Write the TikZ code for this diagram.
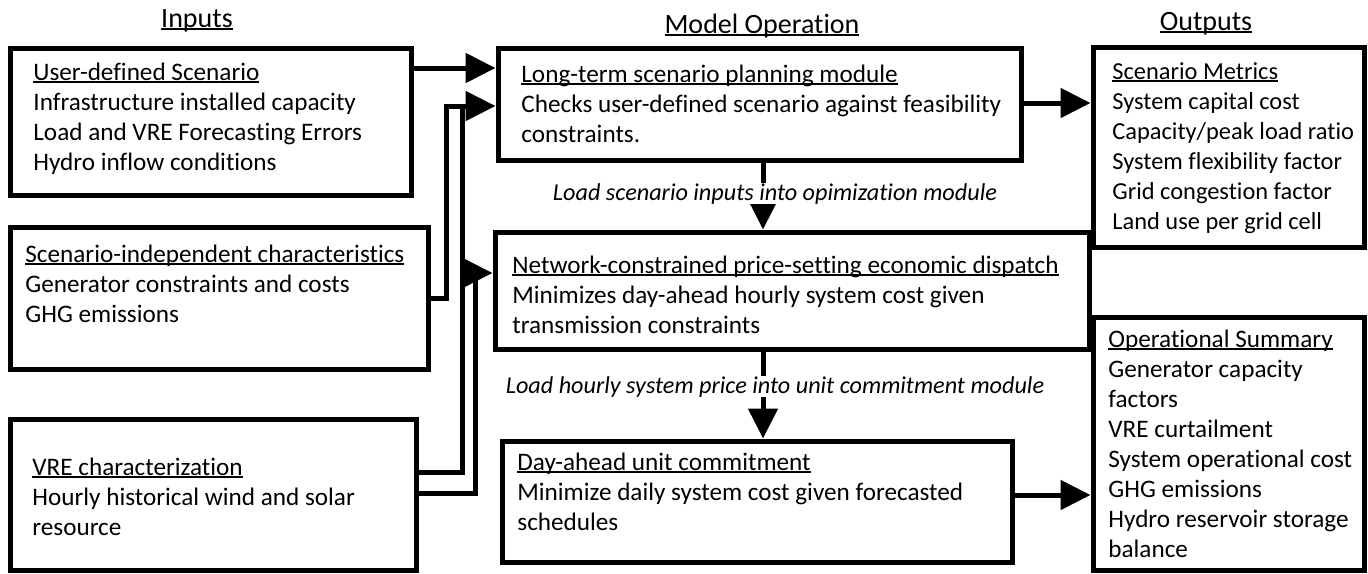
\documentclass[tikz,border=0pt]{standalone}
\usepackage{fontspec}
\setmainfont{Carlito}[Ligatures=NoCommon]
\usepackage{tikz}
\usetikzlibrary{arrows.meta,positioning,fit}

\newsavebox{\ulsave}
\newcommand{\ulhead}[1]{\sbox{\ulsave}{#1}\rlap{\rule[-1.5pt]{\wd\ulsave}{0.85pt}}\usebox{\ulsave}}

\begin{document}
\begin{tikzpicture}[x=0.5pt, y=-0.5pt,
    box/.style={draw, line width=2.5pt, inner sep=0pt},
    txt/.style={anchor=base west, inner sep=0pt, text width=290pt, align=flush left,
        font=\fontsize{12.6}{15}\selectfont},
    lbl/.style={anchor=base, inner xsep=2pt, inner ysep=0pt, fill=white,
        font=\fontsize{12.1}{15}\selectfont\itshape},
    head/.style={anchor=base, inner sep=0pt, font=\fontsize{14}{16}\selectfont},
    flow/.style={line width=2.5pt, -{Triangle[length=15pt,width=14.5pt]}},
    link/.style={line width=2.5pt}
    ]
\useasboundingbox (0,0) rectangle (1368,573);
% headings
\node[head] (hin)  at (197,27) {\ulhead{Inputs}};
\node[head] (hmod) at (762,33) {\ulhead{Model Operation}};
\node[head] (hout) at (1206,30) {\ulhead{Outputs}};
% inputs
\node[box, fit={(10,48) (411,195)}] (user) {};
\node[txt] (usertxt) at (33,80) {\ulhead{User-defined Scenario}\\Infrastructure installed capacity\\Load and VRE Forecasting Errors\\Hydro inflow conditions};
\node[box, fit={(10,227) (428,369)}] (sic) {};
\node[txt] (sictxt) at (25,262) {\ulhead{Scenario-independent characteristics}\\Generator constraints and costs\\GHG emissions};
\node[box, fit={(10,419) (416,570)}] (vre) {};
\node[txt] (vretxt) at (32,475) {\ulhead{VRE characterization}\\Hourly historical wind and solar\\resource};
% model operation
\node[box, fit={(498,48) (1021,160)}] (lt) {};
\node[txt] (lttxt) at (521,82) {\ulhead{Long-term scenario planning module}\\Checks user-defined scenario against feasibility\\constraints.};
\node[box, fit={(495,232) (1089,349)}] (ned) {};
\node[txt] (nedtxt) at (512,273) {\ulhead{Network-constrained price-setting economic dispatch}\\Minimizes day-ahead hourly system cost given\\transmission constraints};
\node[box, fit={(502,441) (1012,562)}] (da) {};
\node[txt] (datxt) at (517,470) {\ulhead{Day-ahead unit commitment}\\Minimize daily system cost given forecasted\\schedules};
% outputs
\node[box, fit={(1093,47) (1364,247)}] (sm) {};
\node[txt, font=\fontsize{12.2}{15}\selectfont] (smtxt) at (1112,79) {\ulhead{Scenario Metrics}\\System capital cost\\Capacity/peak load ratio\\System flexibility factor\\Grid congestion factor\\Land use per grid cell};
\node[box, fit={(1093,317) (1364,570)}] (os) {};
\node[txt] (ostxt) at (1108,347) {\ulhead{Operational Summary}\\Generator capacity\\factors\\VRE curtailment\\System operational cost\\GHG emissions\\Hydro reservoir storage\\balance};
% connectors
\draw[flow] (user.east |- 0,68) -- (lt.west |- 0,68);
\draw[flow] (sic.east |- 0,298) -| (446,106) -- (lt.west |- 0,106);
\draw[link] (vre.east |- 0,472) -| (462,106);
\draw[flow] (vre.east |- 0,493) -| (475,273) -- (ned.west |- 0,273);
\draw[flow] (lt.east |- 0,103) -- (sm.west |- 0,103);
\draw[flow] (lt.south -| 763,0) -- (ned.north -| 763,0);
\draw[flow] (ned.south -| 763,0) -- (da.north -| 763,0);
\draw[flow] (da.east |- 0,495) -- (os.west |- 0,495);
\node[lbl] (lbl1) at (775,200) {Load scenario inputs into opimization module};
\node[lbl] (lbl2) at (775,393) {Load hourly system price into unit commitment module};
\end{tikzpicture}
\end{document}
